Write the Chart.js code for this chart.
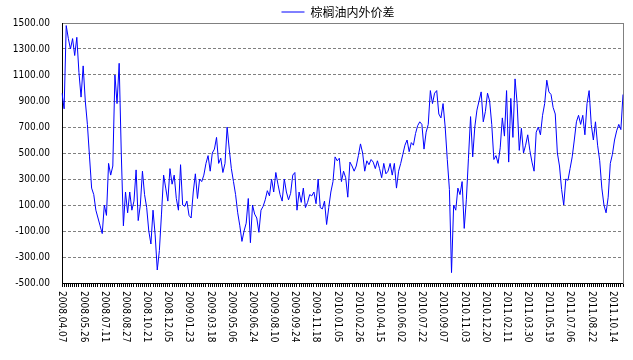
<!DOCTYPE html>
<html lang="zh-CN">
<head>
  <meta charset="UTF-8">
  <title>棕榈油内外价差</title>
  <script src="https://cdn.jsdelivr.net/npm/chart.js"></script>
  <style>
    html, body { margin: 0; padding: 0; background: #fff; }
    #wrap { width: 633px; height: 360px; position: relative; }
  </style>
</head>
<body>
<div id="wrap">
  <canvas id="spreadChart" width="633" height="360"></canvas>
</div>

<script>
  // tick labels, one every 10 points
  const tickLabels = [
    '2008.04.07', '2008.05.26', '2008.07.11', '2008.08.27', '2008.10.21', '2008.12.05',
    '2009.01.23', '2009.03.18', '2009.05.06', '2009.06.24', '2009.08.10', '2009.09.24',
    '2009.11.18', '2010.01.05', '2010.02.26', '2010.04.15', '2010.06.02', '2010.07.22',
    '2010.09.07', '2010.11.03', '2010.12.20', '2011.02.11', '2011.03.30', '2011.05.19',
    '2011.07.06', '2011.08.22', '2011.10.14'
  ];
  const pointsPerTick = 10;

  const seriesName = '棕榈油内外价差';

  // spread values
  const spread = [
    960, 840, 1480, 1380, 1300, 1380, 1250, 1390, 1120, 930,
    1170, 900, 720, 470, 230, 180, 60, 0, -60, -120,
    100, 20, 420, 330, 400, 1100, 880, 1190, 500, -60,
    200, 40, 200, 60, 130, 370, -20, 100, 360, 180,
    80, -100, -200, 60, -130, -400, -250, 30, 330, 230,
    130, 380, 260, 330, 150, 60, 410, 100, 90, 130,
    20, 0, 200, 340, 150, 300, 280, 330, 420, 480,
    360, 500, 530, 620, 420, 460, 350, 420, 700, 530,
    380, 280, 180, 40, -60, -180, -100, -40, 150, -190,
    100, 30, 0, -110, 60, 90, 140, 210, 170, 300,
    200, 350, 260, 180, 130, 300, 200, 140, 190, 330,
    350, 60, 200, 120, 230, 80, 120, 180, 170, 200,
    110, 300, 80, 70, 130, -50, 80, 200, 280, 470,
    440, 460, 280, 360, 310, 160, 430, 400, 360, 400,
    480, 570, 500, 360, 440, 410, 450, 430, 380, 440,
    380, 310, 420, 340, 360, 420, 330, 420, 230, 360,
    420, 490, 560, 600, 510, 580, 560, 650, 710, 740,
    720, 530, 660, 720, 980, 880, 960, 980, 800, 770,
    880, 700, 450, 220, -420, 100, 60, 230, 180, 280,
    -80, 140, 460, 780, 470, 700, 830, 900, 970, 740,
    820, 960, 900, 720, 450, 480, 420, 540, 770, 630,
    980, 430, 920, 620, 1070, 880, 520, 690, 500, 560,
    640, 520, 430, 360, 660, 700, 640, 790, 880, 1060,
    970, 950, 850, 800, 500, 400, 220, 100, 300, 290,
    380, 470, 600, 740, 790, 720, 790, 640, 880, 980,
    720, 600, 740, 560, 440, 230, 100, 40, 160, 420,
    490, 600, 670, 720, 680, 950
  ];

  const yMin = -500;
  const yMax = 1500;
  const yStep = 200;

  const labels = spread.map((v, i) => (i % pointsPerTick === 0 ? (tickLabels[i / pointsPerTick] || '') : ''));

  const narrowFamily = '"DejaVu Sans Condensed", "Liberation Sans", sans-serif';

  // legend: 5px shorter, centred over the plot instead of the canvas
  const legendTweak = {
    id: 'legendTweak',
    beforeLayout(chart) {
      const lg = chart.legend;
      if (lg && !lg._trimmed) {
        const fit = lg.fit;
        lg.fit = function () {
          fit.call(this);
          this.height -= 5;
        };
        lg._trimmed = true;
      }
    },
    afterLayout(chart) {
      const lg = chart.legend;
      if (lg) {
        const shift = chart.chartArea.left - 9 - lg.left;
        lg.left += shift;
        lg.width -= shift;
      }
    }
  };

  // vertical date labels reading top to bottom
  const dateLabels = {
    id: 'dateLabels',
    afterDraw(chart) {
      const xs = chart.scales.x;
      const c = chart.ctx;
      c.save();
      c.font = '10px ' + narrowFamily;
      c.fillStyle = '#000';
      c.textAlign = 'left';
      c.textBaseline = 'middle';
      labels.forEach((t, i) => {
        if (!t) return;
        const px = xs.getPixelForValue(i);
        c.save();
        c.translate(px, xs.bottom + 4);
        c.rotate(Math.PI / 2);
        c.fillText(t, 0, 0);
        c.restore();
      });
      c.restore();
    }
  };

  const ctx = document.getElementById('spreadChart').getContext('2d');
  const spreadChart = new Chart(ctx, {
    type: 'line',
    data: {
      labels: labels,
      datasets: [{
        label: seriesName,
        data: spread,
        borderColor: '#0000ff',
        backgroundColor: '#0000ff',
        borderWidth: 1,
        pointRadius: 0,
        tension: 0,
        fill: false
      }]
    },
    options: {
      responsive: false,
      animation: false,
      layout: {
        padding: { left: 5, right: 10, top: 0, bottom: 73 }
      },
      plugins: {
        legend: {
          position: 'top',
          align: 'center',
          labels: {
            usePointStyle: true,
            pointStyle: 'line',
            pointStyleWidth: 23,
            padding: 6,
            color: '#000',
            font: { size: 12, family: '"Noto Sans CJK SC", sans-serif' }
          }
        },
        tooltip: { enabled: false }
      },
      scales: {
        x: {
          type: 'category',
          position: 'bottom',
          ticks: { display: false, autoSkip: false },
          grid: {
            display: true,
            drawOnChartArea: false,
            drawTicks: true,
            tickLength: 4,
            color: '#000'
          },
          border: { display: true, color: '#000', width: 1 }
        },
        xTop: {
          type: 'category',
          position: 'top',
          ticks: { display: false },
          grid: { display: false, drawTicks: false },
          border: { display: true, color: '#808080', width: 1 }
        },
        y: {
          min: yMin,
          max: yMax,
          afterFit(scale) { scale.width = 57; },
          ticks: {
            stepSize: yStep,
            padding: 12,
            color: '#000',
            font: { size: 10, family: narrowFamily },
            callback: v => v.toFixed(2)
          },
          grid: {
            drawTicks: false,
            color: c => (c.tick && (c.tick.value === yMin || c.tick.value === yMax)) ? 'rgba(0,0,0,0)' : '#808080'
          },
          border: { display: true, color: '#000', width: 1, dash: [3, 2] }
        },
        yRight: {
          type: 'linear',
          position: 'right',
          min: yMin,
          max: yMax,
          ticks: { display: false },
          grid: { display: false, drawTicks: false },
          border: { display: true, color: '#808080', width: 1 }
        }
      }
    },
    plugins: [legendTweak, dateLabels]
  });
</script>
</body>
</html>
